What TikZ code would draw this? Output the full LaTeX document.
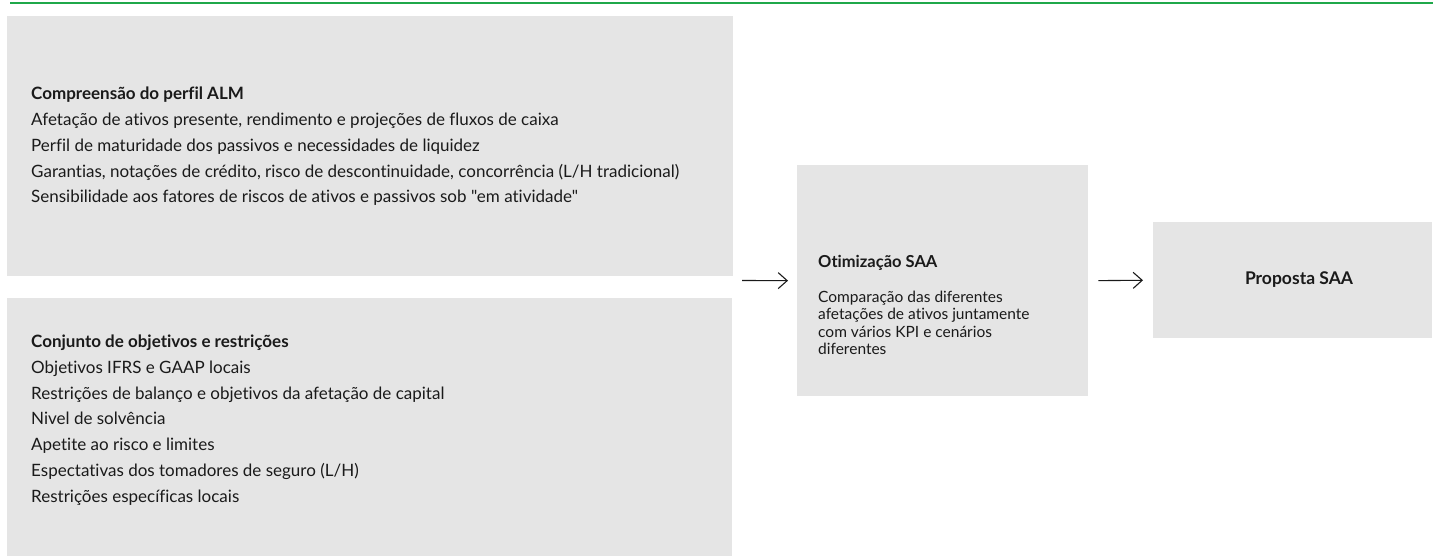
\documentclass[tikz,border=0pt]{standalone}
\usepackage{fontspec}
\newfontfamily\lato{Lato}[RawFeature=-liga]
\usetikzlibrary{arrows.meta}
\definecolor{panel}{HTML}{E5E5E5}
\definecolor{rulegreen}{HTML}{1FA84A}
\definecolor{ink}{HTML}{1A1A1A}
\tikzset{
  panelbox/.style={fill=panel, draw=none, anchor=north west, inner sep=0pt},
  % multi-line nodes: the base anchor sits on the last line
  bodytext/.style={anchor=base west, align=left, inner sep=0pt, text=ink,
    font=\lato\fontsize{17}{25.75}\selectfont},
  midtext/.style={anchor=base west, align=left, inner sep=0pt, text=ink,
    font=\lato\fontsize{15.5}{17.5}\selectfont},
  flow/.style={draw=ink, line width=1.1pt, -{Straight Barb[length=9pt,width=16pt,line width=1.1pt]}}
}
\begin{document}
\begin{tikzpicture}[x=1pt,y=-1pt]
\useasboundingbox (0,0) rectangle (1433,556);
% top rule
\draw[draw=rulegreen, line width=2pt] (10,3.5) -- (1433,3.5);

% panels
\node[panelbox, minimum width=726pt, minimum height=260pt] (alm) at (7,16) {};
\node[panelbox, minimum width=725pt, minimum height=258pt] (obj) at (7,298) {};
\node[panelbox, minimum width=291pt, minimum height=231pt] (opt) at (797,165) {};
\node[panelbox, minimum width=279pt, minimum height=116pt] (prop) at (1153,222) {};

% panel texts
\node[bodytext] (almtext) at (31,203) {\textbf{Compreensão do perfil ALM}\\
Afetação de ativos presente, rendimento e projeções de fluxos de caixa\\
Perfil de maturidade dos passivos e necessidades de liquidez\\
Garantias, notações de crédito, risco de descontinuidade, concorrência (L/H tradicional)\\
Sensibilidade aos fatores de riscos de ativos e passivos sob "em atividade"};

\node[bodytext] (objtext) at (31,502) {\textbf{Conjunto de objetivos e restrições}\\
Objetivos IFRS e GAAP locais\\
Restrições de balanço e objetivos da afetação de capital\\
Nivel de solvência\\
Apetite ao risco e limites\\
Espectativas dos tomadores de seguro (L/H)\\
Restrições específicas locais};

\node[midtext] (opttext) at (818,354.5) {{\fontsize{16.5}{17.5}\selectfont\textbf{Otimização SAA}}\\[17.5pt]
Comparação das diferentes\\
afetações de ativos juntamente\\
com vários KPI e cenários\\
diferentes};

\node[text=ink, font=\lato\fontsize{17.5}{20}\selectfont\bfseries, inner sep=0pt]
  (proptext) at (1299,280) {Proposta SAA};

% connectors
\coordinate (join) at (742,280.5);
\draw[flow, shorten >=9pt] (join) -- (opt.west);
\draw[flow, shorten <=10pt, shorten >=10pt] (opt.east) -- (prop.west);
\end{tikzpicture}
\end{document}
